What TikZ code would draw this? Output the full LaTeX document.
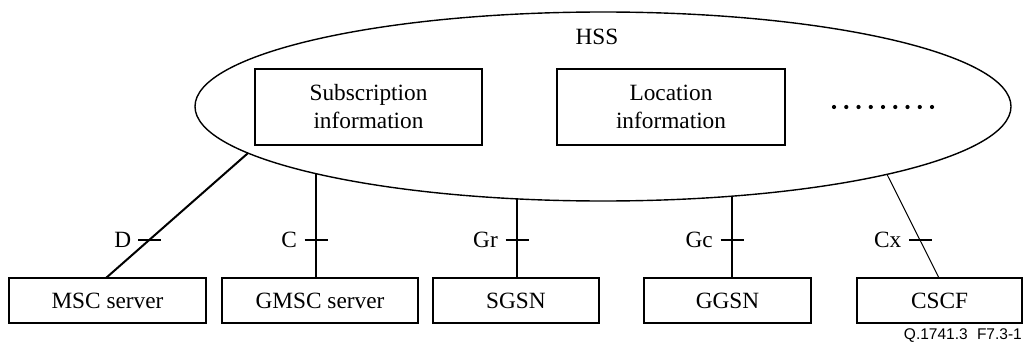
\documentclass[tikz,border=0pt]{standalone}
\usepackage{fontspec}
\setmainfont{Liberation Serif}
\newfontfamily\labelsans{Liberation Sans}
\usetikzlibrary{shapes.geometric}
\tikzset{
  box/.style={draw, line width=1.4pt, inner sep=0pt, outer sep=0pt, minimum height=45, align=center, font=\fontsize{23.3}{28}\selectfont},
  inbox/.style={draw, line width=1.3pt, inner sep=0pt, outer sep=0pt, minimum height=76, align=center, font=\fontsize{23.3}{28}\selectfont},
  link/.style={line width=2pt},
  thinlink/.style={line width=1pt},
  tickmark/.style={line width=2pt},
  iflabel/.style={anchor=east, inner sep=0pt, font=\fontsize{23.3}{28}\selectfont},
  hssshape/.style={draw, ellipse, line width=1.4pt, inner sep=0pt, outer sep=0pt, minimum width=816, minimum height=189},
  dotmark/.style={fill=black, draw=none}
}
\begin{document}
\begin{tikzpicture}[x=1pt, y=-1pt]
\useasboundingbox (0,0) rectangle (1023,345);
% HSS ellipse
\node[hssshape] (hss) at (603,106.5) {};
\node[font=\fontsize{23.3}{28}\selectfont, inner sep=0pt] (hsslabel) at (597,37) {HSS};
\node[inbox, minimum width=227] (sub) at (368.5,107) {Subscription\\information};
\node[inbox, minimum width=228] (loc) at (671,107) {Location\\information};
\foreach \i in {0,...,8} {
  \fill[dotmark] (834+12.25*\i,107) circle [radius=2.1pt];
}
% bottom boxes
\node[box, minimum width=197] (msc) at (107.5,300.5) {MSC server};
\node[box, minimum width=196] (gmsc) at (320,300.5) {GMSC server};
\node[box, minimum width=166] (sgsn) at (516,300.5) {SGSN};
\node[box, minimum width=167] (ggsn) at (727.5,300.5) {GGSN};
\node[box, minimum width=165] (cscf) at (939.5,300.5) {CSCF};
% contact points on the ellipse
\coordinate (eD) at (248,153.1);
\coordinate (eC) at (316,173.7);
\coordinate (eGr) at (517,198.9);
\coordinate (eGc) at (732,196.2);
\coordinate (eCx) at (887,174.4);
% contact points on the boxes
\coordinate (bD) at (msc.north -| 106,0);
\coordinate (bC) at (gmsc.north -| 316,0);
\coordinate (bGr) at (sgsn.north -| 517,0);
\coordinate (bGc) at (ggsn.north -| 732,0);
\coordinate (bCx) at (cscf.north -| 939,0);
% connectors
\draw[link] (bD) -- (eD);
\draw[link] (bC) -- (eC);
\draw[link] (bGr) -- (eGr);
\draw[link] (bGc) -- (eGc);
\draw[thinlink] (bCx) -- (eCx);
% tick marks
\coordinate (tD) at (149.5,240);
\coordinate (tC) at (316,240);
\coordinate (tGr) at (517,240);
\coordinate (tGc) at (732,240);
\coordinate (tCx) at (920.5,240);
\foreach \t in {tD,tC,tGr,tGc,tCx} {
  \draw[tickmark] ([xshift=-11.5pt]\t) -- ([xshift=11.5pt]\t);
}
% interface labels
\node[iflabel] (lD) at ([xshift=-18pt]tD) {D};
\node[iflabel] (lC) at ([xshift=-19pt]tC) {C};
\node[iflabel] (lGr) at ([xshift=-19pt]tGr) {Gr};
\node[iflabel] (lGc) at ([xshift=-19pt]tGc) {Gc};
\node[iflabel] (lCx) at ([xshift=-19pt]tCx) {Cx};
% figure id
\node[anchor=east, inner sep=0pt, font=\labelsans\fontsize{15.5}{18}\selectfont] (figid) at (1022,336) {Q.1741.3\hspace{0.6em}F7.3-1};
\end{tikzpicture}
\end{document}
